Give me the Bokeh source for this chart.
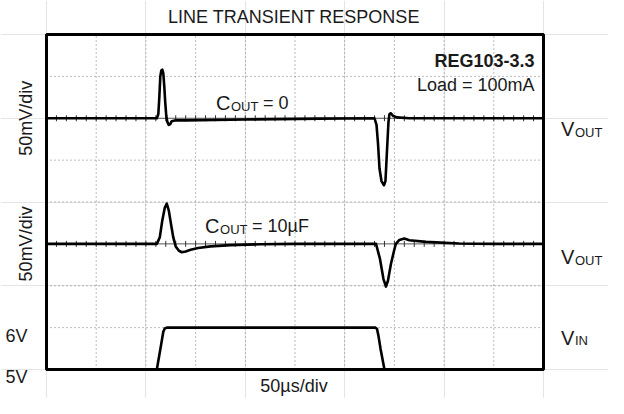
import numpy as np
from bokeh.plotting import figure
from bokeh.models import Range1d, Label
from bokeh.embed import file_html
from bokeh.resources import INLINE

# ---------------- data ----------------
# time in microseconds (50 us/div, 10 div), outputs in mV deviation, input in V
vout0_t = [0, 111, 112.5, 113.5, 114.5, 115.5, 116.5, 117.5, 118.5, 119.5, 120.5,
           121.5, 123, 124.5, 126, 130, 140, 200, 275,
           330, 332, 333.5, 335, 337, 339.5, 341, 342.5, 344, 345, 346.5, 348.5, 352.5, 365, 500]
vout0_mv = [0, 0, 5, 25, 50, 57, 58, 54, 38, 18, 3,
            -4, -8, -7, -3.5, -2.5, -2.5, -1.5, -0.5,
            0, -8, -30, -60, -75, -80, -75, -40, -5, 5, 6, 3, 1, 0, 0]

vout10_t = [0, 111, 114, 116.5, 119, 121, 123, 125.5, 127.5, 130, 133, 136, 140, 145,
            152.5, 165, 185, 215, 250,
            331.5, 335.5, 339, 341.5, 343.5, 346.5, 350, 351.5, 355, 360, 365, 382, 415, 450, 500]
vout10_mv = [0, 0, 8, 28, 43, 48, 40, 22, 8, -3, -8, -10, -9, -7,
             -5, -3, -1.5, -0.5, 0,
             0, -18, -42, -51, -44, -24, -6.4, 0, 4.7, 6.5, 4.3, 2.4, 0.5, 0, 0]

vin_t = [0, 111, 115, 117.5, 119, 121, 331, 332.5, 334, 336, 340, 500]
vin_v = [5, 5, 5.55, 5.9, 5.98, 6, 6, 5.97, 5.8, 5.5, 5, 5]

# scope settings
US_PER_DIV = 50
MV_PER_DIV = 50
V_PER_DIV = 1
N_XDIV, N_YDIV = 10, 8

# ---------------- layout ----------------
W, H = 608, 398
BOX_L, BOX_R, BOX_T, BOX_B = 46, 65, 34, 29   # pixels around the scope screen
FONT = "Liberation Sans"
TXT = "#1a1a1a"

px_per_us = (W - BOX_L - BOX_R) / (N_XDIV * US_PER_DIV)
px_per_div = (H - BOX_T - BOX_B) / N_YDIV
x_lo = -BOX_L / px_per_us
x_hi = N_XDIV * US_PER_DIV + BOX_R / px_per_us
y_lo = -BOX_B / px_per_div
y_hi = N_YDIV + BOX_T / px_per_div

p = figure(width=W, height=H, output_backend="svg", toolbar_location=None,
           x_axis_location=None, y_axis_location=None, title_location=None,
           x_range=Range1d(x_lo, x_hi), y_range=Range1d(y_lo, y_hi),
           min_border=0)
p.outline_line_color = None
p.background_fill_color = "white"
p.border_fill_color = "white"


def chan_range(zero_div, per_div, zero_val=0):
    return Range1d(zero_val + (y_lo - zero_div) * per_div, zero_val + (y_hi - zero_div) * per_div)


p.extra_y_ranges = {
    "vout0": chan_range(6, MV_PER_DIV),
    "vout10": chan_range(3, MV_PER_DIV),
    "vin": chan_range(0, V_PER_DIV, 5),
}

# dotted graticule
gx = [US_PER_DIV * i for i in range(1, N_XDIV)]
p.segment(x0=gx, x1=gx, y0=[0] * len(gx), y1=[N_YDIV] * len(gx),
          line_color="#7a7a7a", line_dash="1 3", line_width=1)
gy = [1, 2, 4, 5, 7]
p.segment(x0=[0] * len(gy), x1=[N_XDIV * US_PER_DIV] * len(gy), y0=gy, y1=gy,
          line_color="#7a7a7a", line_dash="1 3", line_width=1)

# center reference lines with minor ticks
minor = np.arange(US_PER_DIV / 5, N_XDIV * US_PER_DIV, US_PER_DIV / 5)
for rng in ("vout0", "vout10"):
    p.line([0, N_XDIV * US_PER_DIV], [0, 0], y_range_name=rng, line_color="#555555", line_width=1)
    p.scatter(minor, np.zeros_like(minor), y_range_name=rng, marker="dash",
              angle=np.pi / 2, size=6, line_color="#333333", line_width=1)

# traces
p.line(vout0_t, vout0_mv, y_range_name="vout0", line_color="black", line_width=2.6, line_join="round")
p.line(vout10_t, vout10_mv, y_range_name="vout10", line_color="black", line_width=2.6, line_join="round")
p.line(vin_t, vin_v, y_range_name="vin", line_color="black", line_width=2.6, line_join="round")

# scope screen border
p.quad(left=[0], right=[N_XDIV * US_PER_DIV], bottom=[0], top=[N_YDIV],
       fill_color=None, line_color="black", line_width=3)


def lab(x, y, text, size, **kw):
    opts = dict(text_font=FONT, text_font_size=f"{size}px", text_color=TXT,
                text_baseline="alphabetic")
    opts.update(kw)
    p.add_layout(Label(x=x, y=y, text=text, **opts))


# title & annotations
lab(249, 8.425, "LINE TRANSIENT RESPONSE", 18, text_align="center")
lab(491, 7.37, "REG103-3.3", 18, text_align="right", text_font_style="bold")
lab(491, 6.795, "Load = 100mA", 18, text_align="right")

# C_OUT = 0
lab(170.5, 6.37, "C", 20)
lab(170.5, 6.29, "OUT", 13, x_offset=15)
lab(170.5, 6.37, "= 0", 18, x_offset=47)
# C_OUT = 10uF
lab(159.5, 3.43, "C", 20)
lab(159.5, 3.35, "OUT", 13, x_offset=15)
lab(159.5, 3.43, "= 10\u00b5F", 18, x_offset=47)

# right-hand channel labels
for yb in (5.735, 2.68):
    lab(517.5, yb, "V", 20)
    lab(517.5, yb - 0.07, "OUT", 13, x_offset=14)
lab(517.5, 0.764, "V", 20)
lab(517.5, 0.694, "IN", 13, x_offset=14)

# left-hand scale labels
lab(-19, 0.80, "6V", 18, text_align="right")
lab(-19, -0.19, "5V", 18, text_align="right")
for yc in (6, 3):
    lab(-21, yc, "50mV/div", 18, text_align="center", text_baseline="middle", angle=np.pi / 2)

# time scale
lab(249, -0.40, "50\u00b5s/div", 18, text_align="center")

open("out.html", "w").write(file_html(p, INLINE))
